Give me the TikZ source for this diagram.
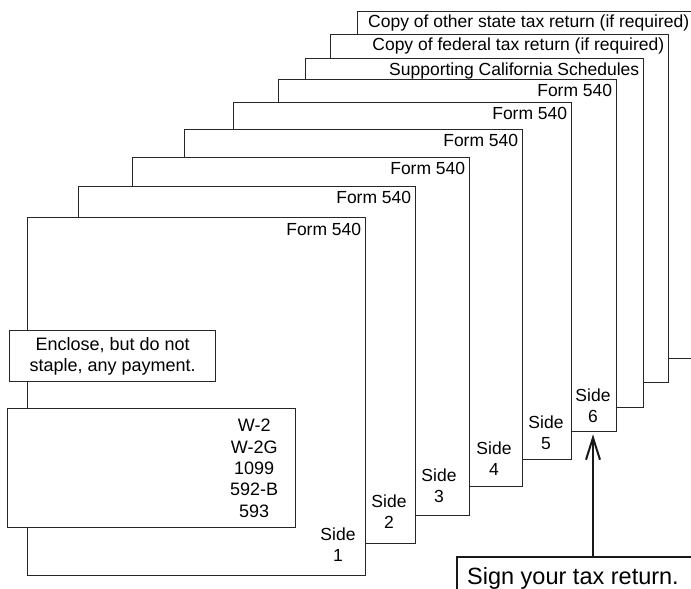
\documentclass[tikz,border=0pt]{standalone}
\usepackage{fontspec}
\setmainfont{Liberation Sans}
\usetikzlibrary{arrows.meta,positioning}

\tikzset{
  sheet/.style={draw=black!85, fill=white, line width=1.4pt, anchor=north west, inner sep=0pt, minimum width=338pt},
  tag/.style={font=\fontsize{17.5}{21}\selectfont, inner sep=0pt},
  sidetag/.style={font=\fontsize{17.5}{21}\selectfont, align=center, inner sep=0pt},
  notebox/.style={draw=black!85, fill=white, line width=1.4pt, anchor=north west, inner sep=0pt, font=\fontsize{18}{21}\selectfont, align=center},
}

\begin{document}
\begin{tikzpicture}[x=1pt, y=-1pt]
    \useasboundingbox (0,0) rectangle (691,589);

    % Attachments at the back of the stack
    \node[sheet, minimum width=336pt, minimum height=347pt] (s9) at (357,11) {};
    \node[tag, below left=4pt and 5pt of s9.north east] (t9) {Copy of other state tax return (if required)};
    \node[sheet, minimum height=348pt] (s8) at (330,34) {};
    \node[tag, below left=4pt and 5pt of s8.north east] (t8) {Copy of federal tax return (if required)};
    \node[sheet, minimum height=349pt] (s7) at (305,58) {};
    \node[tag, below left=5pt and 5pt of s7.north east] (t7) {Supporting California Schedules};

    % Form 540, sides 6 down to 1
    \node[sheet, minimum height=352pt] (s6) at (278,79) {};
    \node[tag, below left=5pt and 5pt of s6.north east] (t6) {Form 540};
    \node[sidetag] (side6) at (593,406) {Side\\6};
    \node[sheet, minimum height=357pt] (s5) at (233,102) {};
    \node[tag, below left=5pt and 5pt of s5.north east] (t5) {Form 540};
    \node[sidetag] (side5) at (546,433) {Side\\5};
    \node[sheet, minimum height=357pt] (s4) at (184,129) {};
    \node[tag, below left=5pt and 5pt of s4.north east] (t4) {Form 540};
    \node[sidetag] (side4) at (494,459) {Side\\4};
    \node[sheet, minimum width=337pt, minimum height=358pt] (s3) at (132,157) {};
    \node[tag, below left=5pt and 5pt of s3.north east] (t3) {Form 540};
    \node[sidetag] (side3) at (439,486) {Side\\3};
    \node[sheet, minimum width=337pt, minimum height=357pt] (s2) at (78,186) {};
    \node[tag, below left=5pt and 5pt of s2.north east] (t2) {Form 540};
    \node[sidetag] (side2) at (389,512) {Side\\2};
    \node[sheet, minimum height=358pt] (s1) at (27,217) {};
    \node[tag, below left=6pt and 5pt of s1.north east] (t1) {Form 540};
    \node[sidetag] (side1) at (338,545) {Side\\1};

    % Payment and wage statements
    \node[notebox, minimum width=206pt, minimum height=51pt] (paybox) at (9,330) {Enclose, but do not\\staple, any payment.};
    \node[notebox, minimum width=288pt, minimum height=119pt] (w2box) at (7,408) {};
    \node[sidetag, font=\fontsize{18}{21.3}\selectfont, left=18pt of w2box.east] (w2list) {W-2\\W-2G\\1099\\592-B\\593};

    % Signature callout
    \node[draw=black!90, fill=white, line width=2.4pt, anchor=north west, inner sep=0pt, minimum width=300pt, minimum height=60pt] (signbox) at (456,556) {};
    \node[font=\fontsize{23.5}{28}\selectfont, inner sep=0pt, below right=11pt and 11pt of signbox.north west] (signtext) {Sign your tax return.};
    \draw[line width=2.4pt, draw=black!90, -{Straight Barb[length=22pt, width=14pt, line width=2pt]}, shorten >=2pt] (side6 |- signbox.north) -- (side6 |- s6.south);

\end{tikzpicture}
\end{document}
